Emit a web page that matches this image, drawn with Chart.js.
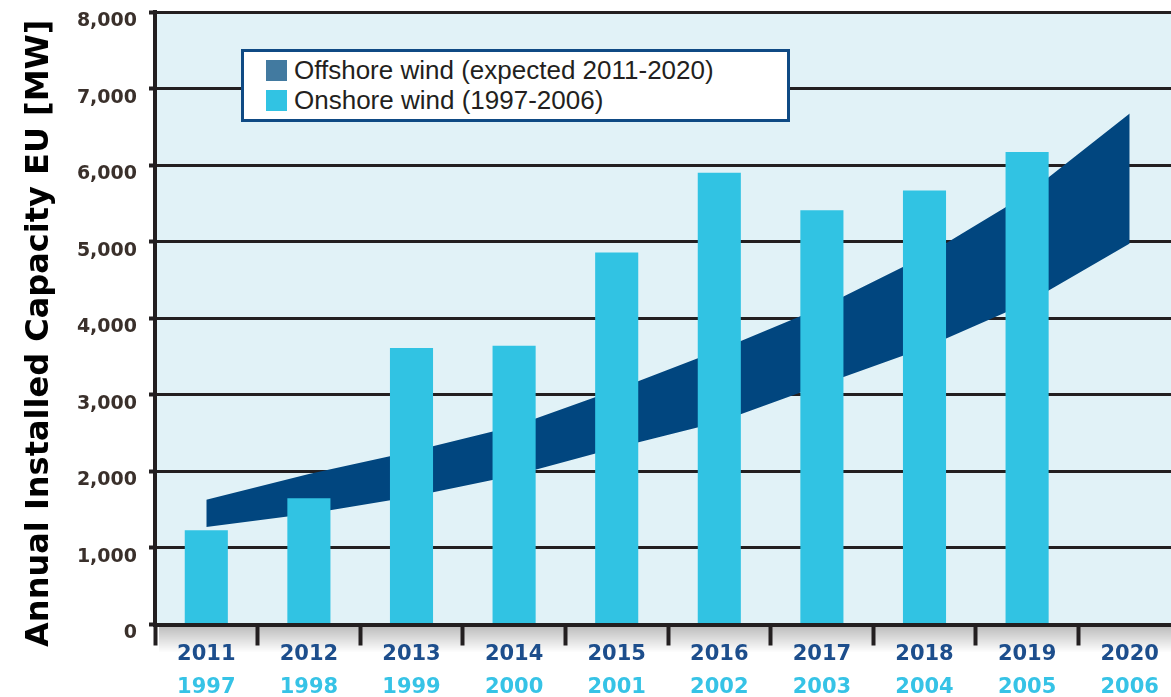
<!DOCTYPE html>
<html lang="en">
<head>
<meta charset="utf-8">
<title>Annual Installed Capacity EU</title>
<script src="https://cdn.jsdelivr.net/npm/chart.js@4.4.1/dist/chart.umd.min.js"></script>
<style>
  html,
  body {
    margin: 0;
    padding: 0;
    background: #ffffff;
    overflow: hidden;
  }
  .chart-wrap {
    position: relative;
    width: 1182px;
    height: 697px;
  }
  .legend-box {
    position: absolute;
    left: 241px;
    top: 49px;
    width: 543px;
    height: 64px;
    padding-top: 3px;
    border: 3px solid #0f4a84;
    background: #ffffff;
    font-family: "Liberation Sans", Arial, sans-serif;
    font-size: 26px;
    color: #231f20;
  }
  .legend-item {
    display: flex;
    align-items: center;
    height: 30px;
    padding-left: 22px;
    white-space: nowrap;
  }
  .legend-swatch {
    width: 21px;
    height: 21px;
    margin-right: 7px;
  }
</style>
</head>
<body>
<div class="chart-wrap">
  <canvas id="windChart"></canvas>
  <div class="legend-box" id="windLegend"></div>
</div>
<script>
// x categories: offshore years (top row) and onshore years (bottom row)
const offshoreYears = ["2011", "2012", "2013", "2014", "2015", "2016", "2017", "2018", "2019", "2020"];
const onshoreYears = ["1997", "1998", "1999", "2000", "2001", "2002", "2003", "2004", "2005", "2006"];

// onshore wind, MW per year (no bar for 2006)
const onshoreValues = [1230, 1650, 3610, 3640, 4860, 5900, 5410, 5670, 6170, null];

// offshore wind expected range, MW (lower / upper edge of the band)
const offshoreLow = [1275, 1445, 1670, 1945, 2310, 2645, 3130, 3610, 4200, 4975];
const offshoreHigh = [1630, 1965, 2260, 2590, 3070, 3585, 4145, 4810, 5620, 6675];

const yTicks = [0, 1000, 2000, 3000, 4000, 5000, 6000, 7000, 8000];
const yTitle = "Annual Installed Capacity EU [MW]";

const offshoreLabel = "Offshore wind (expected 2011-2020)";
const onshoreLabel = "Onshore wind (1997-2006)";

document.addEventListener("DOMContentLoaded", function () {
  const ink = "#231f20";

  /**
   * Light blue plot background and the soft shadow under the x axis.
   */
  const backdrop = {
    id: "backdrop",
    beforeDraw(chart) {
      const { ctx, chartArea } = chart;
      ctx.save();
      ctx.fillStyle = "#e1f2f7";
      ctx.fillRect(chartArea.left, chartArea.top, chartArea.right - chartArea.left, chartArea.bottom - chartArea.top);

      const grad = ctx.createLinearGradient(0, chartArea.bottom + 2, 0, chartArea.bottom + 28);
      grad.addColorStop(0, "rgba(0, 0, 0, 0.26)");
      grad.addColorStop(1, "rgba(0, 0, 0, 0)");
      ctx.fillStyle = grad;
      ctx.fillRect(chartArea.left + 4, chartArea.bottom + 2, chart.width - chartArea.left, 26);
      ctx.restore();
    },
  };

  /**
   * Rotated y axis title, sitting a little lower than the scale centre.
   */
  const sideTitle = {
    id: "sideTitle",
    afterDraw(chart) {
      const { ctx, chartArea } = chart;
      ctx.save();
      ctx.translate(40, (chartArea.top + chartArea.bottom) / 2 + 15);
      ctx.rotate(-Math.PI / 2);
      ctx.font = "bold 32px 'DejaVu Sans'";
      ctx.fillStyle = "#000000";
      ctx.textAlign = "center";
      ctx.textBaseline = "middle";
      ctx.fillText(yTitle, 0, 0);
      ctx.restore();
    },
  };

  const ctx = document.getElementById("windChart").getContext("2d");
  const chart = new Chart(ctx, {
    type: "bar",
    data: {
      labels: offshoreYears,
      datasets: [
        {
          label: onshoreLabel,
          data: onshoreValues,
          backgroundColor: "#31c3e3",
          borderWidth: 0,
          barPercentage: 0.42,
          categoryPercentage: 1,
          order: 0,
          legendColor: "#31c3e3",
        },
        {
          type: "line",
          label: "offshore-low",
          data: offshoreLow,
          borderWidth: 0,
          pointRadius: 0,
          fill: false,
          order: 1,
        },
        {
          type: "line",
          label: offshoreLabel,
          data: offshoreHigh,
          borderWidth: 0,
          pointRadius: 0,
          backgroundColor: "#01467f",
          fill: "-1",
          order: 1,
          legendColor: "#427aa0",
        },
      ],
    },
    options: {
      responsive: true,
      maintainAspectRatio: false,
      animation: false,
      layout: {
        padding: { top: 12, right: 1, left: 0, bottom: 0 },
      },
      plugins: {
        legend: { display: false },
        tooltip: { enabled: false },
      },
      scales: {
        y: {
          min: 0,
          max: 8000,
          afterBuildTicks: (scale) => {
            scale.ticks = yTicks.map((v) => ({ value: v }));
          },
          afterFit: (scale) => {
            scale.width = 155;
            // labels hang below their ticks, so no extra room is needed above
            scale.paddingTop = 0;
            scale.paddingBottom = 0;
          },
          grid: {
            color: ink,
            lineWidth: 3,
            tickLength: 6,
            tickWidth: 4,
          },
          border: { display: true, color: ink, width: 4 },
          ticks: {
            padding: 12,
            labelOffset: 9,
            color: "#3a302b",
            font: { family: "'DejaVu Sans'", size: 19, weight: "bold" },
            callback: (value) => value.toLocaleString("en-US"),
          },
        },
        x: {
          position: "bottom",
          offset: true,
          afterFit: (scale) => {
            scale.height = 46;
          },
          grid: {
            display: true,
            offset: true,
            drawOnChartArea: false,
            drawTicks: true,
            tickLength: 21,
            tickWidth: 4,
            tickColor: ink,
          },
          border: { display: true, color: ink, width: 4 },
          ticks: {
            padding: -4,
            color: "#1d4e8c",
            font: { family: "'DejaVu Sans'", size: 21, weight: "bold" },
          },
        },
        x2: {
          type: "category",
          labels: onshoreYears,
          position: "bottom",
          offset: true,
          afterFit: (scale) => {
            scale.height = 26.5;
          },
          grid: { display: false, drawTicks: false },
          border: { display: false },
          ticks: {
            padding: 4,
            color: "#36c3e6",
            font: { family: "'DejaVu Sans'", size: 21, weight: "bold" },
          },
        },
      },
    },
    plugins: [backdrop, sideTitle],
  });

  /**
   * Build the boxed legend from the datasets that carry a legend colour.
   */
  function buildLegend(chart) {
    const box = document.getElementById("windLegend");
    const items = chart.data.datasets
      .filter((ds) => ds.legendColor)
      .sort((a, b) => (a.label === offshoreLabel ? -1 : 1));
    items.forEach((ds) => {
      const row = document.createElement("div");
      row.className = "legend-item";
      const swatch = document.createElement("span");
      swatch.className = "legend-swatch";
      swatch.style.background = ds.legendColor;
      const text = document.createElement("span");
      text.textContent = ds.label;
      row.appendChild(swatch);
      row.appendChild(text);
      box.appendChild(row);
    });
  }

  buildLegend(chart);
});
</script>
</body>
</html>
